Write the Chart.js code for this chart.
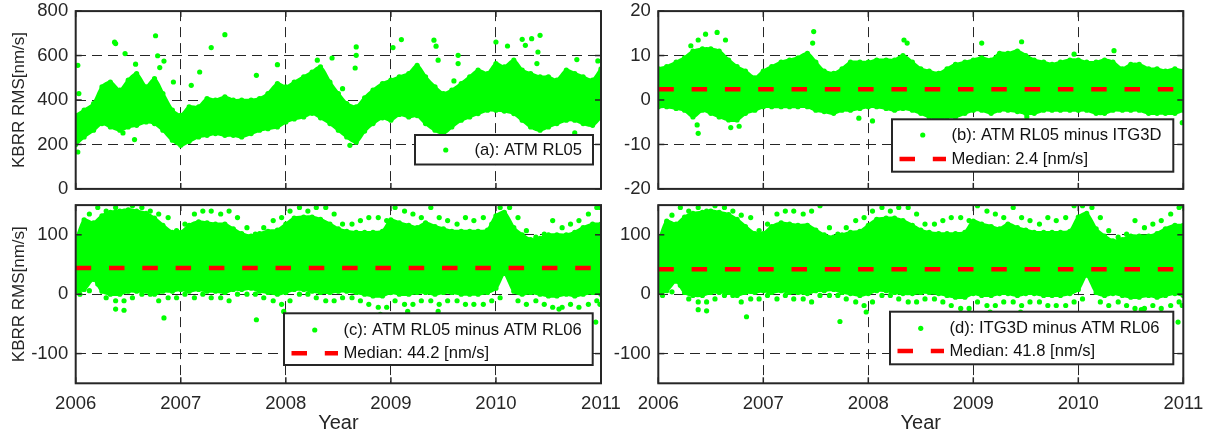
<!DOCTYPE html>
<html>
<head>
<meta charset="utf-8">
<script src="https://cdn.jsdelivr.net/npm/chart.js@4.4.0/dist/chart.umd.min.js"></script>
<style>
  body { margin: 0; background: #fff; }
  #wrap { position: relative; width: 1214px; height: 435px; overflow: hidden; }
  canvas { position: absolute; }
</style>
</head>
<body>
<div id="wrap">
  <canvas id="panelA" width="625" height="200" style="left:0;top:0"></canvas>
  <canvas id="panelB" width="614" height="200" style="left:600px;top:0"></canvas>
  <canvas id="panelC" width="625" height="241" style="left:0;top:194px"></canvas>
  <canvas id="panelD" width="614" height="241" style="left:600px;top:194px"></canvas>
</div>
<script>
// time bins (decimal year, monthly)
const monthYears = [
  2006.00, 2006.08, 2006.17, 2006.25, 2006.33, 2006.42, 2006.50, 2006.58, 2006.67, 2006.75, 2006.83, 2006.92,
  2007.00, 2007.08, 2007.17, 2007.25, 2007.33, 2007.42, 2007.50, 2007.58, 2007.67, 2007.75, 2007.83, 2007.92,
  2008.00, 2008.08, 2008.17, 2008.25, 2008.33, 2008.42, 2008.50, 2008.58, 2008.67, 2008.75, 2008.83, 2008.92,
  2009.00, 2009.08, 2009.17, 2009.25, 2009.33, 2009.42, 2009.50, 2009.58, 2009.67, 2009.75, 2009.83, 2009.92,
  2010.00, 2010.08, 2010.17, 2010.25, 2010.33, 2010.42, 2010.50, 2010.58, 2010.67, 2010.75, 2010.83, 2010.92,
  2011.00
];
// mid-month positions used for the scattered extremes
const midMonthYears = [
  2006.04, 2006.13, 2006.21, 2006.29, 2006.38, 2006.46, 2006.54, 2006.63, 2006.71, 2006.79, 2006.88, 2006.96,
  2007.04, 2007.13, 2007.21, 2007.29, 2007.38, 2007.46, 2007.54, 2007.63, 2007.71, 2007.79, 2007.88, 2007.96,
  2008.04, 2008.13, 2008.21, 2008.29, 2008.38, 2008.46, 2008.54, 2008.63, 2008.71, 2008.79, 2008.88, 2008.96,
  2009.04, 2009.13, 2009.21, 2009.29, 2009.38, 2009.46, 2009.54, 2009.63, 2009.71, 2009.79, 2009.88, 2009.96,
  2010.04, 2010.13, 2010.21, 2010.29, 2010.38, 2010.46, 2010.54, 2010.63, 2010.71, 2010.79, 2010.88, 2010.96,
  2010.99
];
const yearTicks = [2006, 2007, 2008, 2009, 2010, 2011];

// (a) ATM RL05 - dense band (upper / lower edge per month) and scattered points
const atmHigh = [330, 354, 384, 459, 481, 444, 489, 519, 459, 496, 429, 354,
  331, 369, 369, 406, 399, 414, 399, 399, 399, 406, 429, 474,
  459, 480, 504, 526, 549, 480, 429, 384, 369, 410, 444, 474,
  489, 504, 519, 556, 504, 459, 429, 444, 474, 504, 534, 519,
  564, 549, 579, 534, 519, 504, 504, 489, 534, 519, 504, 489, 540];
const atmLow = [200, 234, 264, 294, 279, 264, 279, 286, 301, 294, 264, 219,
  196, 214, 234, 241, 249, 241, 241, 234, 249, 264, 271, 279,
  301, 315, 324, 340, 320, 294, 264, 234, 210, 260, 294, 320,
  309, 335, 324, 330, 294, 264, 249, 279, 309, 324, 339, 354,
  354, 350, 339, 309, 279, 264, 279, 294, 309, 309, 294, 286, 324];
const atmOutliers = [[2006.02, 556], [2006.03, 429], [2006.02, 166], [2006.38, 654], [2006.37, 660],
  [2006.47, 609], [2006.57, 561], [2006.76, 689], [2006.78, 599], [2006.8, 546], [2006.84, 575],
  [2006.93, 481], [2006.56, 222], [2006.45, 252], [2007.1, 466], [2007.18, 526], [2007.29, 636],
  [2007.42, 694], [2007.72, 511], [2007.92, 559], [2008.3, 579], [2008.44, 589], [2008.54, 451],
  [2008.66, 544], [2008.67, 601], [2008.67, 639], [2008.61, 196], [2009.02, 636], [2009.1, 672],
  [2009.41, 669], [2009.43, 642], [2009.45, 579], [2009.6, 486], [2009.64, 564], [2009.64, 601],
  [2010.0, 661], [2010.11, 643], [2010.25, 673], [2010.28, 646], [2010.33, 514], [2010.34, 676],
  [2010.39, 564], [2010.4, 616], [2010.42, 691], [2010.75, 252], [2010.77, 582], [2010.97, 576]];

// (b) ATM RL05 minus ITG3D
const diffBHigh = [7, 7.5, 8.5, 9.5, 11, 11.5, 11.5, 11, 9, 7.5, 6.5, 5,
  6.5, 7.5, 8.5, 9, 9.5, 10.5, 8.5, 6.5, 6, 7, 8.5, 8.5,
  8.5, 9, 9, 9, 10, 8.5, 7, 6.5, 6, 7, 8, 8.5,
  9, 9.5, 9, 10.5, 10.5, 11, 10, 9, 8.5, 8, 8.5, 9,
  9, 8.5, 8.5, 9, 8.5, 7, 8, 8, 7, 7, 6.5, 7, 6.5];
const diffBLow = [-1.5, -1.5, -1.9, -2.3, -3.8, -2.3, -3, -3.8, -4.5, -4.5, -3, -2.3,
  -1.5, -1.5, -1.5, -1.5, -1.5, -1.5, -2.3, -2.6, -3, -2.3, -2.3, -1.9,
  -1.5, -1.5, -1.9, -2.3, -1.9, -2.3, -3, -3.8, -4.1, -3.8, -3.8, -3,
  -2.3, -2.3, -3, -2.3, -2.3, -2.6, -3, -3, -2.3, -2.3, -2.3, -2.3,
  -2.3, -2.3, -3, -3, -2.3, -2.3, -2.3, -2.3, -3, -3, -3, -3, -2.3];
const diffBOutliers = [[2006.45, 14.8], [2006.56, 15.2], [2006.64, 13.5], [2006.38, 13.5], [2006.31, 12.2],
  [2007.48, 15.4], [2007.47, 12.8], [2008.34, 13.5], [2008.37, 12.8], [2009.08, 12.8], [2009.46, 13.1],
  [2010.34, 11.1], [2009.96, 10.3], [2006.38, -7.5], [2006.37, -5.6], [2006.69, -6.2], [2006.77, -5.9],
  [2008.04, -4.7], [2007.91, -4.1], [2010.99, -5.1], [2009.51, -3.8]];
const medianB = 2.4;

// (c) ATM RL05 minus ATM RL06
const diffCHigh = [88, 125, 120, 132, 138, 140, 142, 140, 136, 128, 116, 104,
  104, 116, 122, 120, 118, 118, 110, 102, 98, 102, 106, 108,
  118, 128, 130, 130, 126, 118, 110, 106, 104, 104, 104, 106,
  125, 120, 116, 112, 120, 114, 110, 106, 106, 106, 106, 108,
  132, 138, 112, 100, 92, 94, 100, 100, 100, 104, 112, 118, 118];
const diffCLow = [5, 8, 25, 5, 0, 0, 5, 5, 5, 0, 5, 5,
  8, 5, 8, 5, 5, 3, 8, 8, 10, 5, 3, 0,
  3, 8, 8, 5, 3, 3, 5, 5, 3, 0, -3, -3,
  3, 0, 0, 3, 3, 0, 3, 3, 0, 0, 0, 3,
  10, 35, 5, 0, 3, 0, -3, -3, 0, -3, 0, 3, 0];
const diffCPeak = [101, 135, 146, 140, 146, 140, 149, 146, 140, 135, 129, 107,
  118, 135, 140, 140, 135, 140, 129, 112, 101, 112, 124, 129,
  140, 146, 140, 146, 146, 135, 118, 118, 124, 129, 129, 124,
  146, 140, 135, 129, 146, 129, 124, 118, 129, 124, 129, 118,
  146, 146, 129, 107, 96, 101, 124, 112, 118, 124, 135, 146, 146];
const diffCDip = [0, 6, 17, -6, -11, -11, -6, 0, 0, -11, -6, -6,
  0, -6, 0, -6, -6, -11, 0, 0, 0, -6, -11, -17,
  -11, 0, 0, -6, -11, -11, -6, -6, -11, -17, -22, -22,
  -11, -17, -17, -11, -11, -17, -11, -11, -17, -17, -17, -11,
  -6, 25, -11, -17, -11, -17, -22, -22, -17, -22, -17, -11, -17];
const diffCOutliers = [[2006.84, -40], [2007.72, -43], [2006.38, -25], [2006.46, -27], [2010.95, -47],
  [2009.45, -29], [2010.6, -25], [2009.16, -29], [2007.98, -29], [2008.9, -34]];
const medianC = 44.2;

// (d) ITG3D minus ATM RL06
const diffDHigh = [86, 123, 118, 130, 136, 138, 140, 138, 134, 126, 114, 102,
  102, 114, 120, 118, 116, 116, 108, 100, 96, 100, 104, 106,
  116, 126, 128, 128, 124, 116, 108, 104, 102, 102, 102, 104,
  123, 118, 114, 110, 118, 112, 108, 104, 104, 104, 104, 106,
  130, 136, 110, 98, 90, 92, 98, 98, 98, 102, 110, 116, 116];
const diffDLow = [3, 6, 22, 3, -2, -2, 3, 3, 3, -2, 3, 3,
  6, 3, 6, 3, 3, 1, 6, 6, 8, 3, 1, -2,
  1, 6, 6, 3, 1, 1, 3, 3, 1, -2, -5, -5,
  1, -2, -2, 1, 1, -2, 1, 1, -2, -2, -2, 1,
  8, 32, 3, -2, 1, -2, -5, -5, -2, -5, -2, 1, -2];
const diffDPeak = [95, 133, 146, 140, 146, 140, 149, 146, 140, 133, 129, 107,
  118, 135, 140, 140, 135, 140, 149, 112, 101, 112, 124, 129,
  140, 146, 140, 146, 146, 135, 118, 118, 124, 129, 129, 124,
  149, 140, 135, 129, 146, 129, 124, 118, 129, 124, 129, 149,
  149, 146, 129, 107, 96, 101, 124, 112, 118, 124, 135, 146, 149];
const diffDDip = [-2, 4, 15, -8, -13, -13, -8, -2, -2, -13, -8, -8,
  -2, -8, -2, -8, -8, -13, -2, -2, -2, -8, -13, -19,
  -13, -2, -2, -8, -13, -13, -8, -8, -13, -19, -24, -24,
  -13, -19, -19, -13, -13, -19, -13, -13, -19, -19, -19, -13,
  -8, 23, -13, -19, -13, -19, -24, -24, -19, -24, -19, -13, -19];
const diffDOutliers = [[2006.84, -38], [2007.73, -46], [2006.38, -26], [2006.46, -28], [2010.95, -47],
  [2009.45, -30], [2010.6, -26], [2009.16, -30], [2007.98, -30], [2008.9, -35]];
const medianD = 41.8;

const ticksA = [0, 200, 400, 600, 800];
const ticksB = [-20, -10, 0, 10, 20];
const ticksCD = [-100, 0, 100];

const legendA = ['(a): ATM RL05'];
const legendB = ['(b): ATM RL05 minus ITG3D', 'Median: 2.4 [nm/s]'];
const legendC = ['(c): ATM RL05 minus ATM RL06', 'Median: 44.2 [nm/s]'];
const legendD = ['(d): ITG3D minus ATM RL06', 'Median: 41.8 [nm/s]'];

const GREEN = '#00ff00';
const RED = '#ff0000';
const AXIS = '#262626';
const DOT = 2.6;

Chart.defaults.font.family = '"Liberation Sans", Arial, sans-serif';
Chart.defaults.color = AXIS;

const pts = (xs, ys) => ys.map((y, i) => ({ x: xs[i], y }));
const pairs = arr => arr.map(([x, y]) => ({ x, y }));

// frame, inward tick marks and the boxed legend
const framePlugin = {
  id: 'frameBox',
  afterDraw(chart, args, opts) {
    const { ctx, chartArea: a, scales } = chart;
    ctx.save();
    ctx.setLineDash([]);
    ctx.strokeStyle = AXIS;
    ctx.lineWidth = 1.5;
    const seg = (x1, y1, x2, y2) => { ctx.beginPath(); ctx.moveTo(x1, y1); ctx.lineTo(x2, y2); ctx.stroke(); };
    scales.x.ticks.forEach(t => {
      const px = scales.x.getPixelForValue(t.value);
      seg(px, a.bottom, px, a.bottom - 6);
      seg(px, a.top, px, a.top + 6);
    });
    scales.y.ticks.forEach(t => {
      const py = scales.y.getPixelForValue(t.value);
      seg(a.left, py, a.left + 6, py);
      seg(a.right, py, a.right - 6, py);
    });
    ctx.lineWidth = 2;
    ctx.strokeRect(a.left, a.top, a.right - a.left, a.bottom - a.top);

    const L = opts.box;
    if (L) {
      ctx.fillStyle = '#fff';
      ctx.fillRect(L.x, L.y, L.w, L.h);
      ctx.strokeRect(L.x, L.y, L.w, L.h);
      ctx.font = '16.6px "Liberation Sans", Arial, sans-serif';
      ctx.textBaseline = 'middle';
      opts.labels.forEach((txt, i) => {
        const ry = L.rows[i];
        const x0 = L.x + 7.5, x1 = L.x + 54;
        if (i === 0) {
          ctx.fillStyle = GREEN;
          ctx.beginPath();
          ctx.arc((x0 + x1) / 2, ry, DOT, 0, Math.PI * 2);
          ctx.fill();
        } else {
          ctx.strokeStyle = RED;
          ctx.lineWidth = 4.5;
          ctx.setLineDash([15.5, 17.8]);
          seg(x0, ry, x1, ry);
          ctx.setLineDash([]);
        }
        ctx.fillStyle = '#111';
        ctx.fillText(txt, L.x + 59.5, ry + 0.5);
      });
    }
    ctx.restore();
  }
};

function drawPanel(id, p) {
  const datasets = [];
  if (p.median !== undefined) {
    datasets.push({
      type: 'line', data: [{ x: 2006, y: p.median }, { x: 2011, y: p.median }],
      borderColor: RED, borderWidth: 4.5, borderDash: [15.5, 17.8], pointRadius: 0, fill: false
    });
  }
  const bandStyle = {
    type: 'line', borderColor: GREEN, borderWidth: 3, tension: 0.25,
    pointRadius: DOT, pointBackgroundColor: GREEN, pointBorderWidth: 0
  };
  datasets.push(Object.assign({ data: pts(monthYears, p.low), fill: false }, bandStyle));
  datasets.push(Object.assign({ data: pts(monthYears, p.high), fill: '-1', backgroundColor: GREEN }, bandStyle));
  const dots = data => ({
    type: 'scatter', data, showLine: false,
    pointRadius: DOT, pointBackgroundColor: GREEN, pointBorderWidth: 0
  });
  if (p.peak) datasets.push(dots(pts(midMonthYears, p.peak)));
  if (p.dip) datasets.push(dots(pts(midMonthYears, p.dip)));
  datasets.push(dots(pairs(p.outliers)));

  new Chart(document.getElementById(id), {
    type: 'scatter',
    data: { datasets },
    plugins: [framePlugin],
    options: {
      responsive: false,
      animation: false,
      layout: { padding: { top: 11, right: p.padRight, bottom: 0, left: 0 } },
      plugins: {
        legend: { display: false },
        tooltip: { enabled: false },
        frameBox: { box: p.box, labels: p.labels }
      },
      scales: {
        x: {
          type: 'linear', min: 2006, max: 2011, z: 1,
          afterBuildTicks: s => { s.ticks = yearTicks.map(v => ({ value: v })); },
          afterFit: s => { s.height = p.xHeight; },
          grid: { color: AXIS, lineWidth: 1, drawTicks: true, tickLength: 10, tickColor: 'rgba(0,0,0,0)' },
          border: { display: false, dash: [10, 6] },
          ticks: { display: p.showX, padding: 0, font: { size: 18.5 }, callback: v => String(v) },
          title: { display: p.showX, text: 'Year', font: { size: 20 }, padding: { top: 0, bottom: 0 }, color: AXIS }
        },
        y: {
          type: 'linear', min: p.yMin, max: p.yMax, z: 1,
          afterBuildTicks: s => { s.ticks = p.yTicks.map(v => ({ value: v })); },
          afterFit: s => { s.width = p.yWidth; },
          grid: { color: AXIS, lineWidth: 1, drawTicks: true, tickLength: 7.5, tickColor: 'rgba(0,0,0,0)' },
          border: { display: false, dash: [10, 6] },
          ticks: { padding: 0, font: { size: 18.5 } },
          title: { display: p.showYTitle, text: 'KBRR RMS[nm/s]', font: { size: 17 }, padding: { top: 8.8, bottom: 0 }, color: AXIS }
        }
      }
    }
  });
}

drawPanel('panelA', {
  low: atmLow, high: atmHigh, outliers: atmOutliers,
  yMin: 0, yMax: 800, yTicks: ticksA, yWidth: 75.7, padRight: 24, xHeight: 11,
  showX: false, showYTitle: true,
  box: { x: 415, y: 135, w: 178, h: 29.5, rows: [150] }, labels: legendA
});
drawPanel('panelB', {
  low: diffBLow, high: diffBHigh, outliers: diffBOutliers, median: medianB,
  yMin: -20, yMax: 20, yTicks: ticksB, yWidth: 58.3, padRight: 30.7, xHeight: 11,
  showX: false, showYTitle: false,
  box: { x: 292, y: 119.3, w: 281.3, h: 52.4, rows: [135, 159] }, labels: legendB
});
drawPanel('panelC', {
  low: diffCLow, high: diffCHigh, peak: diffCPeak, dip: diffCDip, outliers: diffCOutliers, median: medianC,
  yMin: -150, yMax: 150, yTicks: ticksCD, yWidth: 75.7, padRight: 24, xHeight: 51.7,
  showX: true, showYTitle: true,
  box: { x: 284, y: 119.3, w: 308.7, h: 51.7, rows: [136, 159.3] }, labels: legendC
});
drawPanel('panelD', {
  low: diffDLow, high: diffDHigh, peak: diffDPeak, dip: diffDDip, outliers: diffDOutliers, median: medianD,
  yMin: -150, yMax: 150, yTicks: ticksCD, yWidth: 58.3, padRight: 30.7, xHeight: 51.7,
  showX: true, showYTitle: false,
  box: { x: 290, y: 117.7, w: 283.3, h: 52.6, rows: [134.3, 157] }, labels: legendD
});
</script>
</body>
</html>
